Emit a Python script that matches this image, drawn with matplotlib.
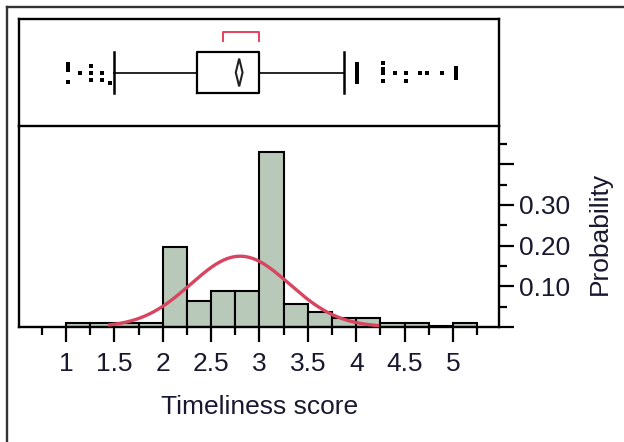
import numpy as np
import matplotlib
matplotlib.use("Agg")
import matplotlib.pyplot as plt
from matplotlib.lines import Line2D
from matplotlib.patches import Polygon
from matplotlib.ticker import FixedLocator, FixedFormatter

plt.rcParams['font.family'] = ['Liberation Sans', 'DejaVu Sans']

# Histogram of timeliness scores (bin width 0.25), probability per bin
bin_edges = [1.0, 1.25, 1.5, 1.75, 2.0, 2.25, 2.5, 2.75, 3.0, 3.25,
             3.5, 3.75, 4.0, 4.25, 4.5, 4.75, 5.0, 5.25]
probabilities = [0.011, 0.011, 0.011, 0.011, 0.197, 0.064, 0.088, 0.088,
                 0.430, 0.057, 0.037, 0.022, 0.022, 0.011, 0.011, 0.003, 0.011]

# Fitted normal curve
normal_mean = 2.80
normal_sd = 0.51
normal_peak = 0.174
curve_range = (1.45, 4.22)

# Outlier box plot summary
whisker_low, q1, q3, whisker_high = 1.5, 2.35, 3.0, 3.875
mean_value, mean_ci = 2.79, (2.755, 2.825)
shortest_half = (2.62, 3.0)

# Outlier points: score and vertical jitter (pixels from the box centre line)
outlier_x = [1.02, 1.02, 1.02, 1.02, 1.145, 1.258, 1.258, 1.258, 1.372, 1.372, 1.455,
             4.008, 4.008, 4.008, 4.008, 4.008, 4.008, 4.008,
             4.277, 4.277, 4.277, 4.277, 4.40, 4.514, 4.514, 4.659, 4.731, 4.886,
             5.031, 5.031, 5.031, 5.031]
outlier_jitter = [-9, -6, -3, 9, 0, -7, 0, 7, 0, 7, 10,
                  -9, -6, -3, 0, 3, 6, 9,
                  -10, -4, 0, 8, 0, 0, 8, 0, 0, 0,
                  -5, -2, 1, 5]

x_major = [1, 1.5, 2, 2.5, 3, 3.5, 4, 4.5, 5]
x_labels = ['1', '1.5', '2', '2.5', '3', '3.5', '4', '4.5', '5']
x_minor = [0.75, 1.25, 1.75, 2.25, 2.75, 3.25, 3.75, 4.25, 4.75, 5.25]
y_major = [0.0, 0.1, 0.2, 0.3, 0.4]
y_labels = ['', '0.10', '0.20', '0.30', '']
y_minor = [0.05, 0.15, 0.25, 0.35, 0.45]

W, H = 624, 442
fig = plt.figure(figsize=(W / 100, H / 100), dpi=100)

def px_axes(left, top, right, bottom):
    return fig.add_axes([left / W, 1 - bottom / H, (right - left) / W, (bottom - top) / H])

xlim = (0.514, 5.476)
text_color = '#18182e'
fs = 19

# ---------- box plot panel ----------
axb = px_axes(19, 19, 499, 126)
axb.set_xlim(*xlim)
axb.set_ylim(0, 1)
axb.set_xticks([])
axb.set_yticks([])
for s in axb.spines.values():
    s.set_linewidth(1.7)
axb.spines['bottom'].set_visible(False)

yc = 0.5
bh = 0.196
axb.plot([whisker_low, q1], [yc, yc], color='black', lw=1.2)
axb.plot([q3, whisker_high], [yc, yc], color='black', lw=1.2)
axb.plot([whisker_low, whisker_low], [yc - bh, yc + bh], color='black', lw=1.8)
axb.plot([whisker_high, whisker_high], [yc - bh, yc + bh], color='black', lw=1.8)
axb.plot([q1, q3, q3, q1, q1], [yc - bh, yc - bh, yc + bh, yc + bh, yc - bh],
         color='black', lw=1.6)
dh = 0.13
axb.add_patch(Polygon([[mean_ci[0], yc], [mean_value, yc + dh], [mean_ci[1], yc],
                       [mean_value, yc - dh]], closed=True, fill=False,
                      edgecolor='#222222', lw=1.5))
axb.plot([shortest_half[0], shortest_half[0], shortest_half[1], shortest_half[1]],
         [0.79, 0.88, 0.88, 0.79], color='#e8405a', lw=1.4)
axb.scatter(outlier_x, [yc - j / 107 for j in outlier_jitter], marker='s', s=9,
            color='black', linewidths=0)

# ---------- histogram panel ----------
axh = px_axes(19, 126, 499, 327)
axh.set_xlim(*xlim)
axh.set_ylim(0, 0.494)
widths = np.diff(bin_edges)
axh.bar(bin_edges[:-1], probabilities, width=widths, align='edge',
        color='#b9c9b9', edgecolor='black', linewidth=1.5, zorder=2)
xs = np.linspace(curve_range[0], curve_range[1], 300)
axh.plot(xs, normal_peak * np.exp(-0.5 * ((xs - normal_mean) / normal_sd) ** 2),
         color='#d84560', lw=2.4, zorder=3)
for s in axh.spines.values():
    s.set_linewidth(1.7)

axh.xaxis.set_major_locator(FixedLocator(x_major))
axh.xaxis.set_major_formatter(FixedFormatter(x_labels))
axh.xaxis.set_minor_locator(FixedLocator(x_minor))
axh.tick_params(axis='x', which='major', direction='out', length=11, width=1.6,
                pad=7, labelsize=fs, labelcolor=text_color)
axh.tick_params(axis='x', which='minor', direction='out', length=5.5, width=1.6)

axh.yaxis.tick_right()
axh.yaxis.set_major_locator(FixedLocator(y_major))
axh.yaxis.set_major_formatter(FixedFormatter(y_labels))
axh.yaxis.set_minor_locator(FixedLocator(y_minor))
axh.tick_params(axis='y', which='major', direction='out', length=10.5, width=1.6,
                pad=4, labelsize=fs, labelcolor=text_color)
axh.tick_params(axis='y', which='minor', direction='out', length=5.5, width=1.6)

fig.text(260 / W, 1 - 407 / H, 'Timeliness score', ha='center', va='center',
         fontsize=fs, color=text_color)
fig.text(600 / W, 1 - 233 / H, 'Probability', ha='center', va='center',
         rotation=90, fontsize=fs, color=text_color)

# outer frame
fig.add_artist(Line2D([7 / W, 7 / W], [0, 1 - 7 / H], color='#333333', lw=1.7))
fig.add_artist(Line2D([7 / W, 1], [1 - 7 / H, 1 - 7 / H], color='#333333', lw=1.7))

fig.savefig('out.png', dpi=100)
